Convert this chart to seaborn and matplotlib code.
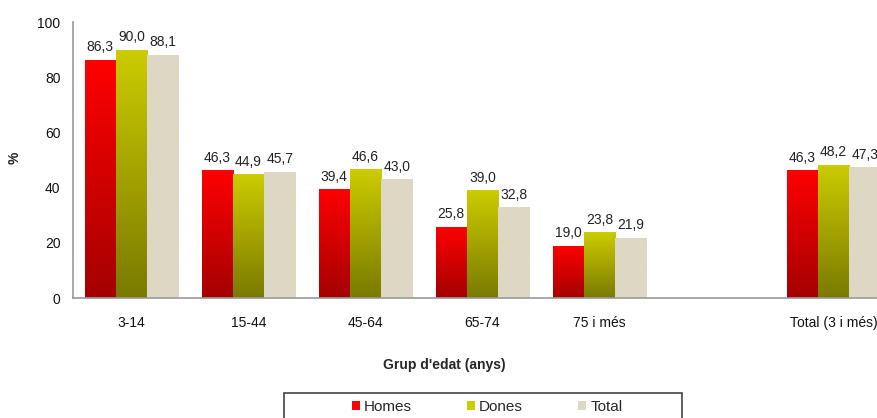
import numpy as np
import pandas as pd
import matplotlib
matplotlib.use("Agg")
import matplotlib.pyplot as plt
from matplotlib.colors import LinearSegmentedColormap
from matplotlib.patches import Patch, Rectangle
import seaborn as sns

# Dades
grups = ["3-14", "15-44", "45-64", "65-74", "75 i més", " ", "Total (3 i més)"]
grups_dades = ["3-14", "15-44", "45-64", "65-74", "75 i més", "Total (3 i més)"]
homes = [86.3, 46.3, 39.4, 25.8, 19.0, 46.3]
dones = [90.0, 44.9, 46.6, 39.0, 23.8, 48.2]
total = [88.1, 45.7, 43.0, 32.8, 21.9, 47.3]
series = ["Homes", "Dones", "Total"]

df = pd.DataFrame({
    "grup": grups_dades * 3,
    "sexe": np.repeat(series, len(grups_dades)),
    "valor": homes + dones + total,
})

sns.set_style("white")
plt.rcParams["font.family"] = ["Liberation Sans", "DejaVu Sans"]

# colors (top, bottom) del degradat
grad_cols = {
    "Homes": ("#ff0000", "#a40000"),
    "Dones": ("#cccc00", "#7a7a00"),
    "Total": ("#ddd8c3", "#ddd8c3"),
}
palette = {k: v[0] for k, v in grad_cols.items()}

W, H = 878, 418
fig = plt.figure(figsize=(W / 100, H / 100), dpi=100)
ax = fig.add_axes([73 / W, (H - 298) / H, 819 / W, 276 / H])

sns.barplot(data=df, x="grup", y="valor", hue="sexe", order=grups,
            hue_order=series, palette=palette, saturation=1, width=0.8,
            linewidth=0, legend=False, ax=ax)

# degradat vertical dins de cada barra
grad = np.linspace(1, 0, 256).reshape(-1, 1)
for nom, cont in zip(series, ax.containers):
    cmap = LinearSegmentedColormap.from_list(nom, [grad_cols[nom][1], grad_cols[nom][0]])
    for bar in cont:
        x, w, h = bar.get_x(), bar.get_width(), bar.get_height()
        im = ax.imshow(grad, cmap=cmap, aspect="auto", extent=[x, x + w, 0, h],
                       origin="upper", vmin=0, vmax=1, zorder=bar.get_zorder())
        im.set_clip_path(bar)
    ax.bar_label(cont, labels=[f"{v:.1f}".replace(".", ",") for v in cont.datavalues],
                 padding=4, fontsize=10, color="#222222")

ax.set_xlim(-0.5, 6.5)
ax.set_ylim(0, 100)
ax.set_yticks(range(0, 101, 20))
ax.tick_params(axis="both", length=0, labelsize=10, colors="#111111")
ax.tick_params(axis="y", pad=9)
ax.tick_params(axis="x", pad=13)
for s in ["top", "right"]:
    ax.spines[s].set_visible(False)
for s in ["left", "bottom"]:
    ax.spines[s].set_color("#9a9a9a")
    ax.spines[s].set_linewidth(1.2)

ax.set_xlabel("")
ax.set_ylabel("")
fig.text(15 / W, (H - 158) / H, "%", rotation=90, fontsize=10, fontweight="bold",
         ha="center", va="center")
fig.text(444 / W, (H - 365) / H, "Grup d'edat (anys)", fontsize=10,
         fontweight="bold", ha="center", va="center")

# llegenda
fig.patches.append(Rectangle((284 / W, -0.1), 398 / W, 0.1 + (H - 393) / H,
                             transform=fig.transFigure, fill=False,
                             edgecolor="#444444", linewidth=1.2))
handles = [Patch(facecolor=palette[s], edgecolor="none", label=s) for s in series]
fig.legend(handles=handles, loc="center", bbox_to_anchor=(487 / W, (H - 407) / H),
           ncol=3, frameon=False, fontsize=11, handlelength=0.55, handleheight=0.55,
           handletextpad=0.25, columnspacing=3.6, borderaxespad=0)

fig.savefig("out.png", dpi=100)
